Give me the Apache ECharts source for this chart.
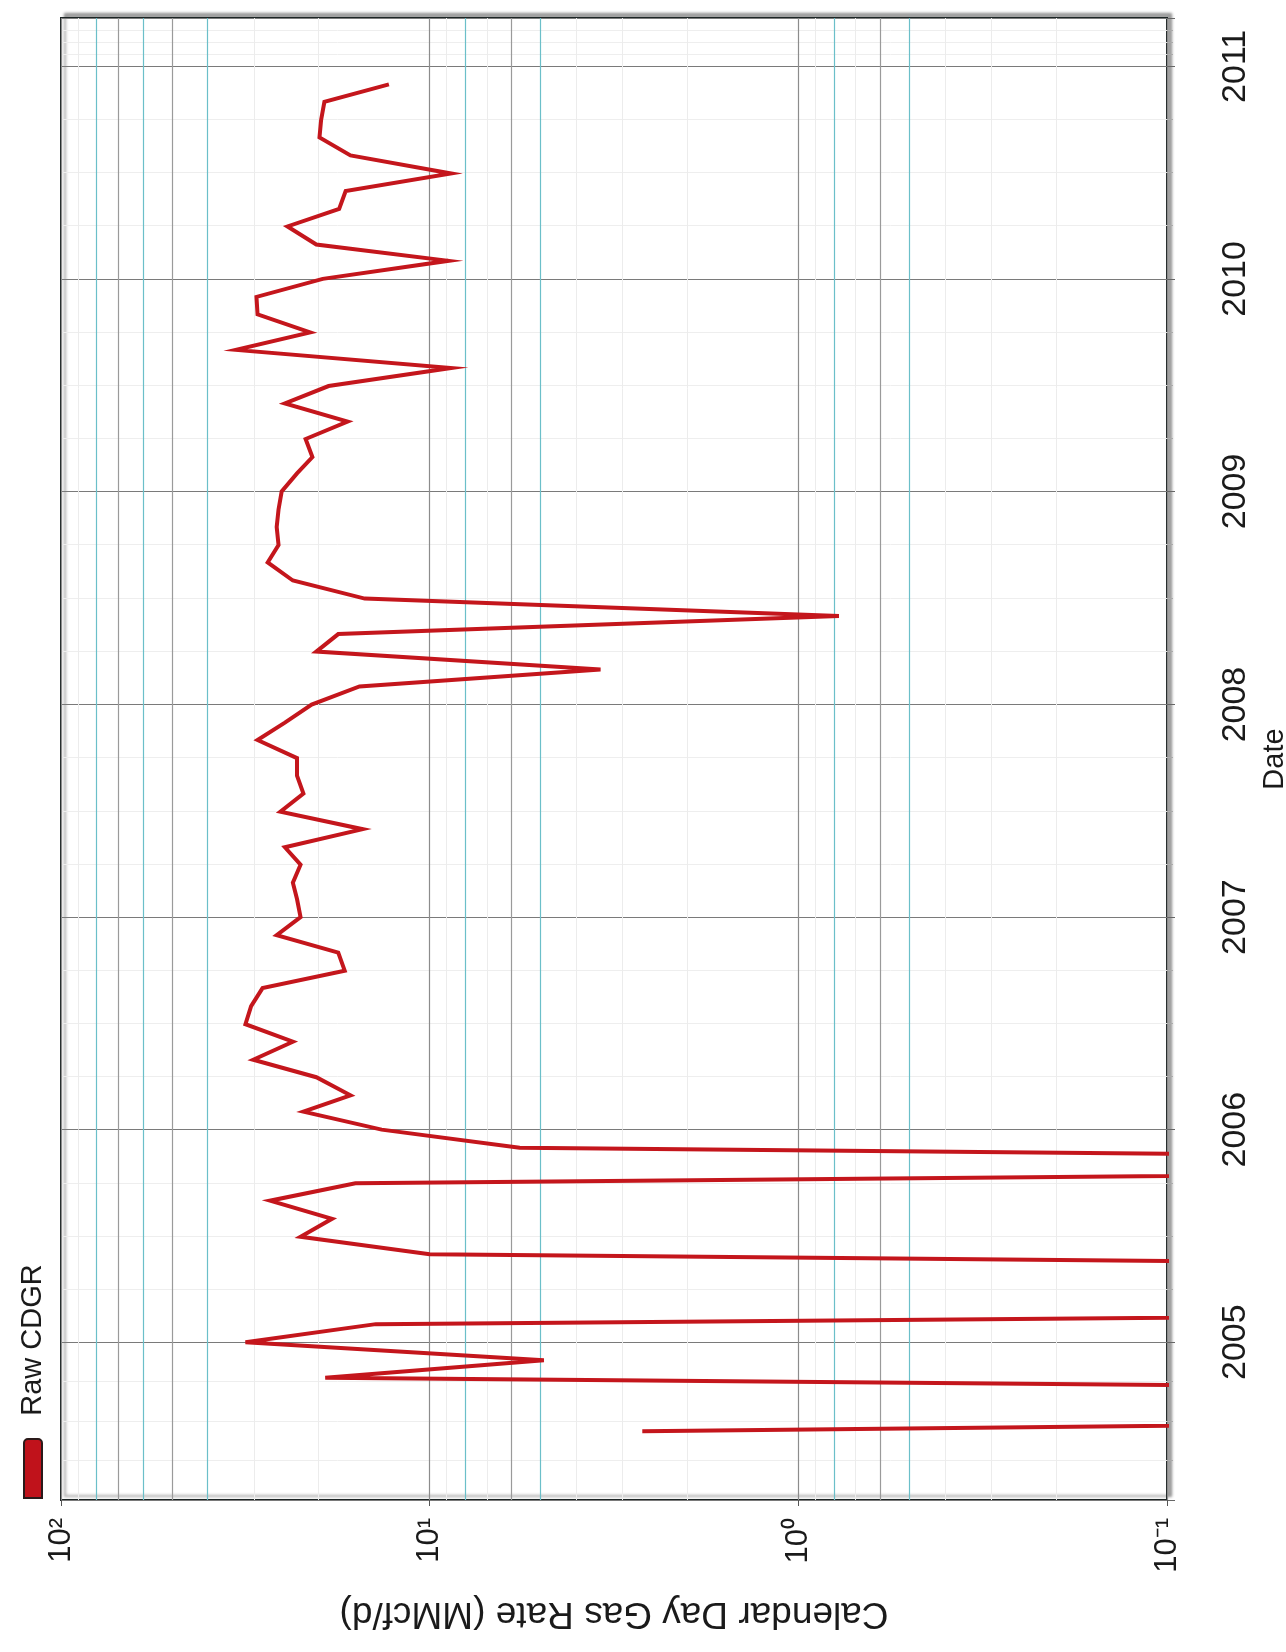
<!DOCTYPE html>
<html>
<head>
<meta charset="utf-8">
<script src="https://cdn.jsdelivr.net/npm/echarts@6/dist/echarts.min.js"></script>
<style>
html,body{margin:0;padding:0;background:#fff;}
#chart{width:1286px;height:1652px;}
</style>
</head>
<body>
<div id="chart"></div>
<script>
// ---- data (monthly, first of month) ----
const months = [
 '2004-08-01','2004-09-01','2004-10-01','2004-11-01','2004-12-01',
 '2005-01-01','2005-02-01','2005-03-01','2005-04-01','2005-05-01','2005-06-01','2005-07-01','2005-08-01','2005-09-01','2005-10-01','2005-11-01','2005-12-01',
 '2006-01-01','2006-02-01','2006-03-01','2006-04-01','2006-05-01','2006-06-01','2006-07-01','2006-08-01','2006-09-01','2006-10-01','2006-11-01','2006-12-01',
 '2007-01-01','2007-02-01','2007-03-01','2007-04-01','2007-05-01','2007-06-01','2007-07-01','2007-08-01','2007-09-01','2007-10-01','2007-11-01','2007-12-01',
 '2008-01-01','2008-02-01','2008-03-01','2008-04-01','2008-05-01','2008-06-01','2008-07-01','2008-08-01','2008-09-01','2008-10-01','2008-11-01','2008-12-01',
 '2009-01-01','2009-02-01','2009-03-01','2009-04-01','2009-05-01','2009-06-01','2009-07-01','2009-08-01','2009-09-01','2009-10-01','2009-11-01','2009-12-01',
 '2010-01-01','2010-02-01','2010-03-01','2010-04-01','2010-05-01','2010-06-01','2010-07-01','2010-08-01','2010-09-01','2010-10-01','2010-11-01','2010-12-01'
];
// Raw CDGR, MMcf/d (0 = no production, drawn off the bottom of the log scale)
const rawCDGR = [
 2.65, 0, 0, 19.2, 4.9,
 31.6, 14.0, 0, 0, 0, 10.0, 22.4, 18.4, 27.1, 15.9, 0, 5.7,
 13.5, 22.0, 16.4, 20.3, 30.1, 23.5, 31.6, 30.5, 28.4, 17.0, 17.7, 26.0,
 22.4, 22.9, 23.5, 22.4, 24.7, 15.2, 25.4, 22.0, 22.9, 22.9, 29.3, 24.7,
 20.9, 15.5, 3.44, 20.3, 17.7, 0.776, 15.0, 23.5, 27.5, 25.7, 26.0, 25.7,
 25.2, 22.9, 20.8, 21.7, 16.7, 24.7, 18.8, 8.75, 33.5, 21.1, 29.3, 29.5,
 19.5, 8.9, 20.3, 24.3, 17.6, 16.9, 8.75, 16.4, 19.9, 19.7, 19.3, 12.9
];
const seriesName = 'Raw CDGR';
const valueTicks = [0.1, 1, 10, 100];
const valueTickLabels = ['10\u207B\u00B9', '10\u2070', '10\u00B9', '10\u00B2'];
const rateAxisTitle = 'Calendar Day Gas Rate (MMcf/d)';
const dateAxisTitle = 'Date';
// minor log grid lines (per decade 2..9)
const minorGridValues = [0.2,0.3,0.4,0.5,0.6,0.7,0.8,0.9, 2,3,4,5,6,7,8,9, 20,30,40,50,60,70,80,90];
// visible (darker) minor lines in the reference: [value, colorKind]
const accentGrid = [[80,'t'],[70,'g'],[60,'t'],[50,'g'],[40,'t'],[8,'t'],[6,'g'],[5,'t'],[0.8,'t'],[0.6,'g'],[0.5,'t']];

const ZERO_FLOOR = 5e-5; // zero rates plotted below the axis floor (clipped)
// [rate, date]: rate on the horizontal log axis, date on the vertical time axis
const seriesData = months.map((m, i) => [rawCDGR[i] > 0 ? rawCDGR[i] : ZERO_FLOOR, m]);

const TEAL = '#6bbfc9', GREY = '#9a9a9a';
const markData = minorGridValues.map(v => ({xAxis: v, lineStyle: {color: '#ececec', width: 1, type: 'solid'}}))
  .concat(accentGrid.map(a => ({xAxis: a[0], lineStyle: {color: a[1] === 't' ? TEAL : GREY, width: 1.2, type: 'solid'}})));

const FONT = 'Liberation Sans, Arial, Helvetica, sans-serif';
const chart = echarts.init(document.getElementById('chart'), null, {renderer: 'canvas'});
chart.setOption({
  backgroundColor: '#ffffff',
  animation: false,
  grid: {
    left: 61, right: 119, top: 18, bottom: 152,
    containLabel: false, outerBoundsMode: 'none',
    show: true, backgroundColor: '#ffffff',
    borderColor: '#1c2424', borderWidth: 2,
    shadowColor: 'rgba(0,0,0,0.35)', shadowBlur: 3, shadowOffsetX: 4, shadowOffsetY: -4
  },
  xAxis: {
    type: 'log', logBase: 10, min: 0.1, max: 100, inverse: true, position: 'bottom',
    name: rateAxisTitle, nameLocation: 'middle', nameGap: 113, nameRotate: 180,
    nameTextStyle: {fontFamily: FONT, fontSize: 37, color: '#1a1a1a', verticalAlign: 'middle', align: 'center'},
    axisLine: {show: false},
    axisTick: {show: true, length: 6, lineStyle: {color: '#555'}},
    axisLabel: {
      rotate: 90, margin: 18, fontFamily: FONT, fontSize: 31, color: '#1a1a1a',
      formatter: v => { const k = valueTicks.findIndex(t => Math.abs(Math.log10(t) - Math.log10(v)) < 1e-6); return k >= 0 ? valueTickLabels[k] : ''; }
    },
    splitLine: {show: true, lineStyle: {color: '#8c8c8c', width: 1.2}}
  },
  yAxis: {
    type: 'time', position: 'right',
    min: '2004-04-05', max: '2011-03-25',
    minInterval: 365 * 24 * 3600 * 1000, maxInterval: 366 * 24 * 3600 * 1000,
    name: dateAxisTitle, nameLocation: 'middle', nameGap: 96, nameRotate: 90,
    nameTextStyle: {fontFamily: FONT, fontSize: 29, color: '#1a1a1a', verticalAlign: 'middle'},
    axisLine: {show: false},
    axisTick: {show: true, length: 8, lineStyle: {color: '#666'}},
    minorTick: {show: true, splitNumber: 4, length: 6, lineStyle: {color: '#aaa'}},
    minorSplitLine: {show: true, lineStyle: {color: '#eeeeee', width: 1}},
    axisLabel: {
      rotate: 90, margin: 52, fontFamily: 'Liberation Sans Narrow, Arial Narrow, ' + FONT, fontSize: 34, color: '#1a1a1a',
      showMinLabel: false, showMaxLabel: false,
      formatter: '{yyyy}'
    },
    splitLine: {show: true, lineStyle: {color: '#7a7a7a', width: 1.2}}
  },
  series: [{
    name: seriesName, type: 'line', z: 3,
    data: seriesData, showSymbol: false, symbol: 'none', clip: true,
    encode: {x: 0, y: 1},
    lineStyle: {color: '#c4161c', width: 4, join: 'miter'},
    markLine: {silent: true, z: 1, symbol: 'none', label: {show: false}, animation: false, data: markData}
  }],
  graphic: [
    {type: 'rect', left: 23, top: 1438, shape: {width: 18, height: 59, r: [4, 4, 0, 0]},
     style: {fill: '#c0121b', stroke: '#2a1a1a', lineWidth: 2}},
    {type: 'text', x: 33, y: 1340, rotation: Math.PI / 2,
     style: {text: seriesName, fontFamily: FONT, fontSize: 29, fill: '#1a1a1a', align: 'center', verticalAlign: 'middle'}}
  ]
});
</script>
</body>
</html>
